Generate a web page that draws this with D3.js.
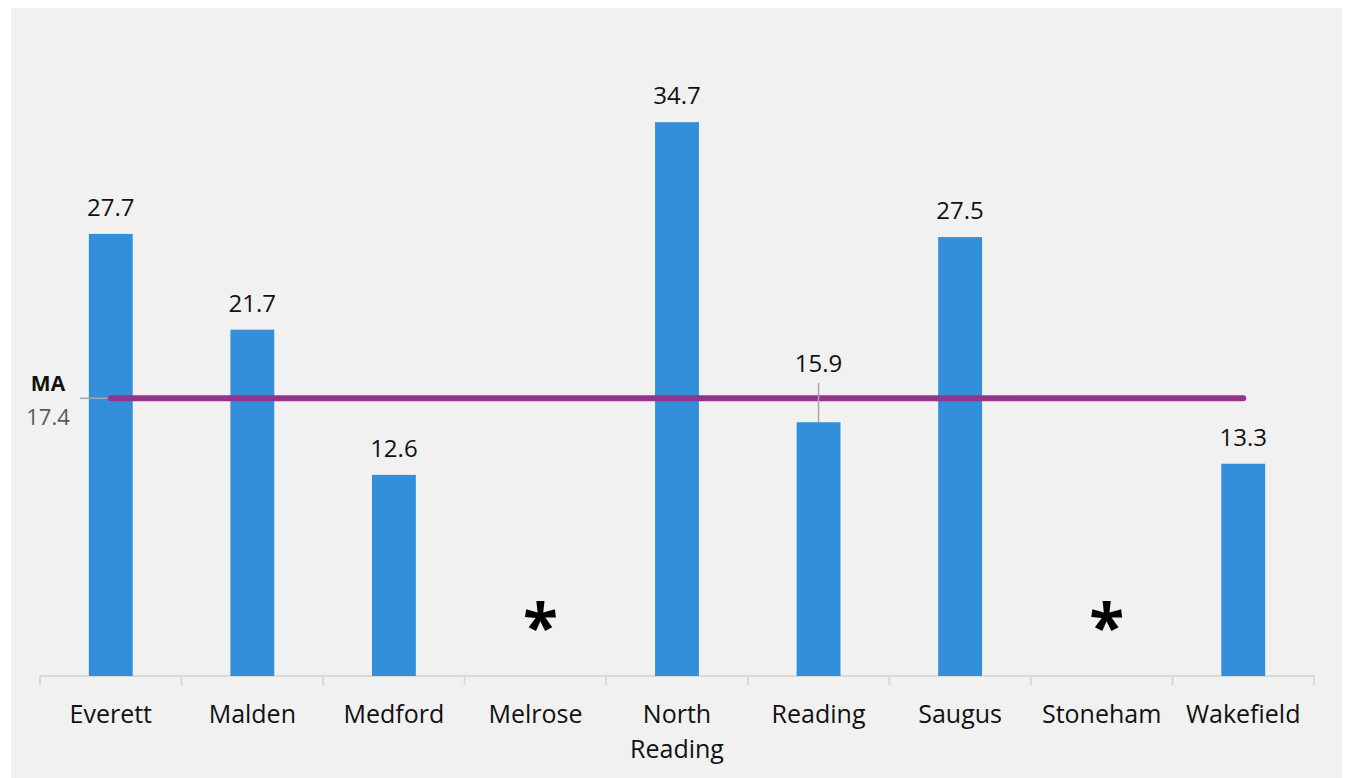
<!DOCTYPE html>
<html>
<head>
<meta charset="utf-8">
<script src="https://cdn.jsdelivr.net/npm/d3@7"></script>
<style>
  html, body { margin: 0; padding: 0; background: #ffffff; }
  svg { display: block; }
  text { font-family: "Open Sans", "Noto Sans", sans-serif; }
</style>
</head>
<body>
<svg id="chart" width="1348" height="778"></svg>
<script>
// Towns and their rates (null = suppressed, shown with an asterisk)
const towns = ["Everett", "Malden", "Medford", "Melrose", "North Reading", "Reading", "Saugus", "Stoneham", "Wakefield"];
const rates = [27.7, 21.7, 12.6, null, 34.7, 15.9, 27.5, null, 13.3];
// Statewide reference value
const stateLabel = "MA";
const stateRate = 17.4;

const svg = d3.select("#chart");
const W = 1348, H = 778;

// Panel background
svg.append("rect").attr("x", 11).attr("y", 8).attr("width", 1331).attr("height", H - 8)
  .attr("fill", "#f1f1f1");

const x = d3.scaleBand().domain(towns).range([40, 1314]).paddingInner(0.69).paddingOuter(0.345);
const y = d3.scaleLinear().domain([0, 10]).range([676, 676 - 159.6]);

const rows = towns.map((t, i) => ({ town: t, value: rates[i] }));

// Axis: baseline plus ticks between categories
const axisG = svg.append("g");
axisG.append("line").attr("x1", 40).attr("x2", 1314).attr("y1", y(0)).attr("y2", y(0))
  .attr("stroke", "#d9d9d9").attr("stroke-width", 2);
const step = x.step();
const tickXs = d3.range(towns.length + 1).map(i => 40 + i * step);
axisG.selectAll("line.tick").data(tickXs).join("line").attr("class", "tick")
  .attr("x1", d => d).attr("x2", d => d).attr("y1", y(0)).attr("y2", y(0) + 9)
  .attr("stroke", "#d9d9d9").attr("stroke-width", 2);

// Category labels (wrap two-word names)
const catG = svg.append("g");
rows.forEach(r => {
  const cx = x(r.town) + x.bandwidth() / 2;
  const words = r.town.split(" ");
  const t = catG.append("text").attr("x", cx).attr("y", 723).attr("text-anchor", "middle")
    .attr("font-size", 25).attr("fill", "#111");
  words.forEach((w, k) => {
    t.append("tspan").attr("x", cx).attr("dy", k === 0 ? 0 : 35).text(w);
  });
});

// Bars
svg.append("g").selectAll("rect").data(rows.filter(r => r.value !== null)).join("rect")
  .attr("x", d => x(d.town)).attr("width", x.bandwidth())
  .attr("y", d => y(d.value)).attr("height", d => y(0) - y(d.value))
  .attr("fill", "#348fda");

// Statewide line
const lineY = y(stateRate);
const firstC = x(towns[0]) + x.bandwidth() / 2;
const lastC = x(towns[towns.length - 1]) + x.bandwidth() / 2;
svg.append("line").attr("x1", 80).attr("x2", firstC).attr("y1", lineY).attr("y2", lineY)
  .attr("stroke", "#a6a6a6").attr("stroke-width", 1.5);
svg.append("line").attr("x1", firstC).attr("x2", lastC).attr("y1", lineY).attr("y2", lineY)
  .attr("stroke", "#93358c").attr("stroke-width", 6).attr("stroke-linecap", "round");
svg.append("text").attr("x", 48).attr("y", 391).attr("text-anchor", "middle")
  .attr("font-size", 21).attr("font-weight", "bold").attr("fill", "#111").text(stateLabel);
svg.append("text").attr("x", 48).attr("y", 425).attr("text-anchor", "middle")
  .attr("font-size", 22).attr("fill", "#595959").text(stateRate.toFixed(1));

// Value labels; a label that would collide with the line is lifted with a leader
const labG = svg.append("g");
rows.filter(r => r.value !== null).forEach(r => {
  const cx = x(r.town) + x.bandwidth() / 2;
  const top = y(r.value);
  const collides = top > lineY && top - 40 < lineY;
  if (collides) {
    labG.append("line").attr("x1", cx).attr("x2", cx).attr("y1", top).attr("y2", 383)
      .attr("stroke", "#a6a6a6").attr("stroke-width", 1.5);
    labG.append("text").attr("x", cx).attr("y", 372).attr("text-anchor", "middle")
      .attr("font-size", 24).attr("fill", "#111").text(r.value.toFixed(1));
  } else {
    labG.append("text").attr("x", cx).attr("y", top - 18).attr("text-anchor", "middle")
      .attr("font-size", 24).attr("fill", "#111").text(r.value.toFixed(1));
  }
});

// Suppressed values
rows.filter(r => r.value === null).forEach(r => {
  const cx = x(r.town) + x.bandwidth() / 2 + 5;
  svg.append("text").attr("x", cx).attr("y", 650).attr("text-anchor", "middle")
    .attr("font-size", 64).attr("font-weight", "bold").attr("fill", "#000").text("*");
});
</script>
</body>
</html>
